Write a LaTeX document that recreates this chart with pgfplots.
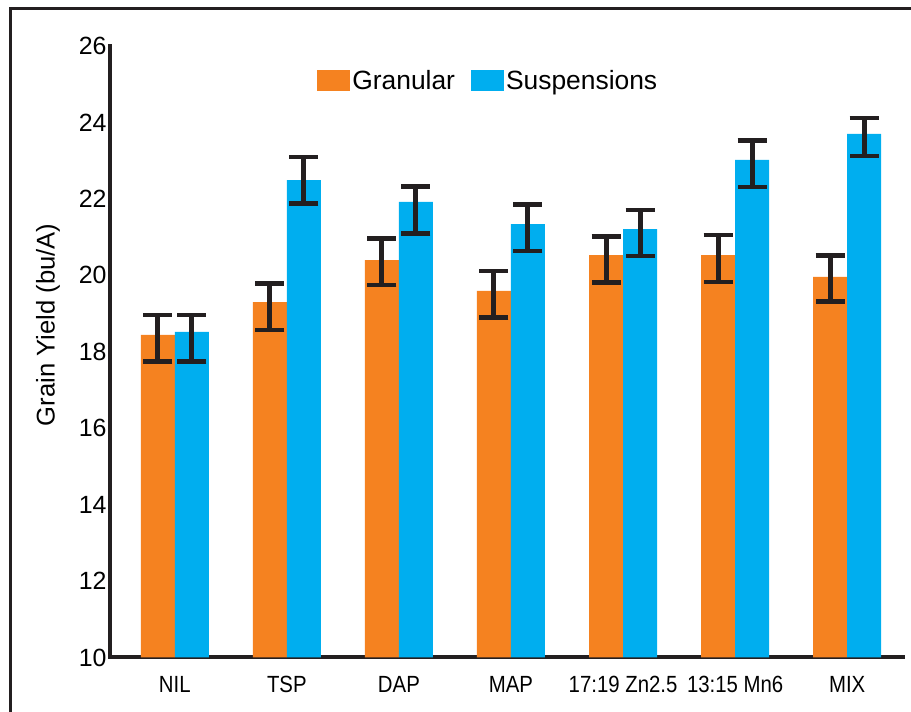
\documentclass[border=0pt]{standalone}
\usepackage{pgfplots}
\pgfplotsset{compat=1.18}
\usepackage{pgfplotstable}
\usepackage{fontspec}
\setmainfont{Liberation Sans}
\newfontfamily\condensed[FakeStretch=0.87]{Liberation Sans}
\definecolor{gran}{HTML}{F58220}
\definecolor{susp}{HTML}{00AEEF}
\definecolor{dark}{HTML}{231F20}

\pgfplotstableread{
x y ep em
0 18.44 0.52 0.70
1 19.30 0.49 0.73
2 20.40 0.56 0.65
3 19.59 0.52 0.69
4 20.53 0.49 0.72
5 20.53 0.52 0.70
6 19.96 0.56 0.65
}\granular
\pgfplotstableread{
x y ep em
0 18.52 0.44 0.78
1 22.49 0.61 0.61
2 21.92 0.40 0.82
3 21.34 0.51 0.70
4 21.21 0.50 0.71
5 23.02 0.51 0.71
6 23.70 0.41 0.58
}\suspensions

\begin{document}
\begin{tikzpicture}[x=1bp,y=1bp]
\useasboundingbox (0,0) rectangle (911,712);
\draw[line width=3bp, color=dark] (10,-10) -- (10,703) -- (925,703);
\begin{axis}[
  at={(110bp,54.5bp)}, anchor=south west,
  scale only axis, width=793bp, height=611.5bp,
  xmin=-0.578, xmax=6.498, ymin=10, ymax=26,
  ybar=0pt, bar width=34bp,
  axis x line*=bottom, axis y line*=left,
  axis line style={line width=4bp, color=dark, -, line cap=rect},
  tick style={draw=none},
  xtick=data,
  xticklabels={NIL,TSP,DAP,MAP,17:19 Zn2.5,13:15 Mn6,MIX},
  xticklabel style={font=\condensed\fontsize{23.5}{23.5}\selectfont, anchor=base, yshift=-30.5bp},
  ytick={10,12,...,26},
  yticklabel style={font=\fontsize{25}{25}\selectfont},
  /pgf/number format/assume math mode=true,
  ylabel={Grain Yield (bu/A)},
  ylabel style={font=\fontsize{25.7}{25.7}\selectfont, at={(axis description cs:-0.0782,0.544)}, anchor=center},
  clip=false,
  legend columns=2,
  legend style={draw=none, fill=none, at={(axis description cs:0.477,0.943)}, anchor=center,
    font=\fontsize{26.5}{26.5}\selectfont,
    /tikz/every even column/.append style={column sep=14bp},
    nodes={inner sep=2bp}},
  legend image code/.code={\fill[#1] (0bp,-10.5bp) rectangle (33bp,10.5bp);},
  error bars/y dir=both,
  error bars/y explicit,
  error bars/error bar style={line width=5bp, color=dark},
  error bars/error mark options={line width=4.5bp, color=dark, mark size=14.5bp, rotate=90},
]
\addplot[fill=gran, draw=none] table[x=x, y=y, y error plus=ep, y error minus=em] {\granular};
\addplot[fill=susp, draw=none] table[x=x, y=y, y error plus=ep, y error minus=em] {\suspensions};
\legend{Granular, Suspensions}
\end{axis}
\end{tikzpicture}
\end{document}
